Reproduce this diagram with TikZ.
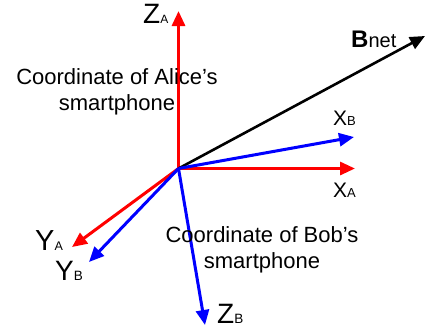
\documentclass[tikz,border=0pt]{standalone}
\usepackage{fontspec}
\setmainfont{Liberation Sans}
\usetikzlibrary{arrows.meta}
\newcommand{\axlab}[4]{{\fontsize{#3}{#3}\selectfont #1}{\fontsize{#4}{#4}\selectfont #2}}
\begin{document}
\begin{tikzpicture}[x=1pt,y=-1pt,
  axis/.style={line width=3pt,-{Triangle[length=15pt,width=13pt]}},
  lab/.style={inner sep=0pt,anchor=base west},
  desc/.style={inner sep=0pt,align=center,font=\fontsize{22}{25.5}\selectfont}]
\useasboundingbox (0,0) rectangle (427,333);
\coordinate (O) at (178.5,168.5);
\coordinate (za) at (178.5,11);
\coordinate (xa) at (355,168.5);
\coordinate (ya) at (72,247);
\coordinate (xb) at (354,137);
\coordinate (yb) at (89,262);
\coordinate (zb) at (205,325);
\coordinate (bn) at (425,36);
\draw[axis,red] (O) -- (za);
\draw[axis,red] (O) -- (xa);
\draw[axis,red] (O) -- (ya);
\draw[axis,black,line width=2.6pt] (O) -- (bn);
\draw[axis,blue] (O) -- (xb);
\draw[axis,blue] (O) -- (yb);
\draw[axis,blue] (O) -- (zb);
\node[lab] (lza) at (143,23) {\axlab{Z}{A}{28}{12}};
\node[lab] (lxb) at (333,125) {\axlab{X}{B}{21}{13}};
\node[lab] (lxa) at (333,197) {\axlab{X}{A}{21}{13}};
\node[lab] (lya) at (35,250) {\axlab{Y}{A}{29}{12.5}};
\node[lab] (lyb) at (55,280) {\axlab{Y}{B}{28}{13.5}};
\node[lab] (lzb) at (217,323) {\axlab{Z}{B}{28}{13.5}};
\node[lab] (lbn) at (351,47) {{\fontsize{24}{24}\selectfont\bfseries B}{\fontsize{20}{20}\selectfont net}};
\node[desc] (alice) at (117,92) {Coordinate of Alice’s\\smartphone};
\node[desc] (bob) at (262,250) {Coordinate of Bob’s\\smartphone};
\end{tikzpicture}
\end{document}
